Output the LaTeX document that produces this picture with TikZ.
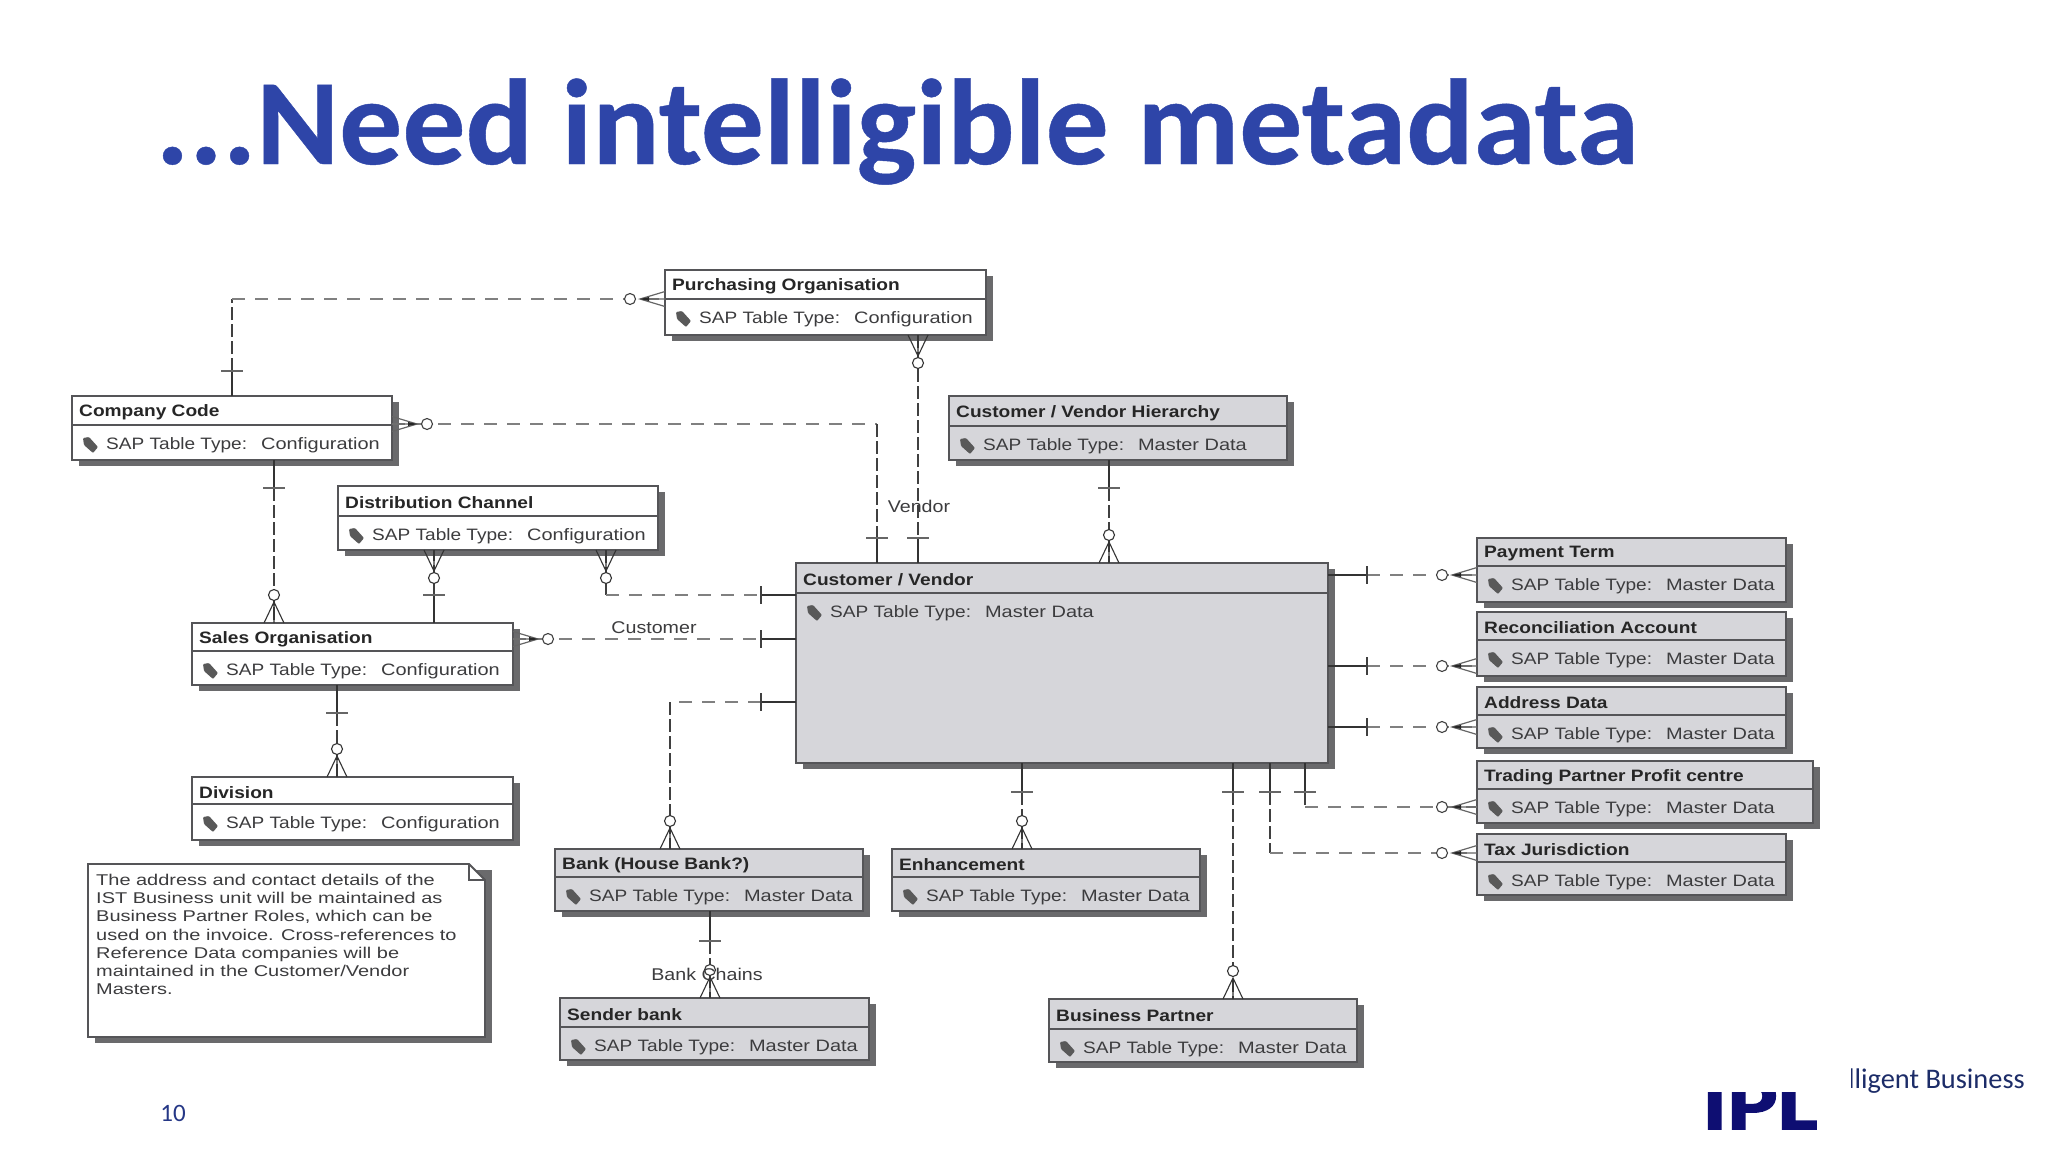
\documentclass[tikz,border=0pt]{standalone}
\usepackage{fontspec}
\setmainfont{Liberation Sans}
\newfontfamily\titlefont[FakeStretch=1.03,FakeBold=0.35]{Carlito}
\newfontfamily\plainfont{Carlito}
\newfontfamily\logofont[FakeStretch=1.26,FakeBold=2.2]{Carlito}
\newfontfamily\boxtitlefont[FakeStretch=1.16]{Liberation Sans}
\newfontfamily\boxbodyfont[FakeStretch=1.155]{Liberation Sans}
\newfontfamily\boxvaluefont[FakeStretch=1.21]{Liberation Sans}
\newfontfamily\notefont[FakeStretch=1.28]{Liberation Sans}
\definecolor{titleblue}{HTML}{2E45A8}
\definecolor{navy}{HTML}{1C2C68}
\definecolor{logoblue}{HTML}{0E0E72}
\definecolor{edgegrey}{HTML}{555558}
\definecolor{shadowgrey}{HTML}{6A6A6C}
\definecolor{masterfill}{HTML}{D6D6DA}
\definecolor{textgrey}{HTML}{3C3C3E}
\tikzset{
  x=1pt,y=-1pt,
  boxframe/.style={draw=edgegrey,line width=1.8pt,inner sep=0pt,outer sep=0pt,anchor=north west},
  boxshade/.style={fill=shadowgrey},
  boxtitle/.style={anchor=west,inner sep=0pt,font=\boxtitlefont\bfseries\fontsize{16.5}{18}\selectfont,text=black!85},
  boxbody/.style={anchor=west,inner sep=0pt,font=\boxbodyfont\fontsize{16.5}{18}\selectfont,text=textgrey},
  solidrel/.style={draw=black!80,line width=1.1pt},
  dashv/.style={draw=black!75,line width=1.1pt,dash pattern=on 13pt off 4pt},
  dashh/.style={draw=black!50,line width=2pt,dash pattern=on 13pt off 10pt},
  rellabel/.style={inner sep=0pt,font=\boxbodyfont\fontsize{17}{18}\selectfont,text=textgrey},
  crowv/.pic={
    \draw[solidrel] (-10,0)--(0,-21)--(10,0) (0,-21)--(0,0);
    \draw[draw=black!80,line width=1.1pt,fill=white] (0,-28) circle[radius=5.5];
  },
  crowh/.pic={
    \draw[solidrel,draw=black!60,line width=1.2pt] (0,-7.5)--(-25,0)--(0,7.5) (-25,0)--(0,0);
    \fill[black!85] (-25,0)--(-16,-2)--(-16,2)--cycle;
    \draw[draw=black!75,line width=1.1pt,fill=white] (-35,0) circle[radius=5.5];
  },
  tickbar/.pic={\draw[draw=black!60,line width=1.1pt] (-11,0)--(11,0);},
  tickpost/.pic={\draw[draw=black!75,line width=1.1pt] (0,-9)--(0,9);},
}
\newcommand\entity[9]{%
  \fill[boxshade] ({#2+7},{#3+6}) rectangle ({#4+7},{#5+6});
  \node[boxframe,fill=#7,minimum width={(#4-#2)*1pt},minimum height={(#5-#3)*1pt}] (#1) at (#2,#3) {};
  \draw[edgegrey,line width=1.5pt] (#2,#6)--(#4,#6);
  \fill[black!65,rounded corners=1pt] ({#2+11},{#6+13})--++(6,-1)--++(9,10)--++(-5,6)--++(-9,-8)--cycle;
  \node[boxtitle] (#1-title) at ({#2+7},{(#3+#6)/2+2}) {#8};
  \node[boxbody] (#1-body) at ({#2+34},{#6+20.5}) {SAP Table Type:\hspace{14pt}{\boxvaluefont #9}};
}
\begin{document}
\begin{tikzpicture}
\useasboundingbox (0,0) rectangle (2048,1152);
\fill[white] (0,0) rectangle (2048,1152);
\node[anchor=base west,inner sep=0pt,text=titleblue,font=\titlefont\bfseries\fontsize{122}{130}\selectfont] (maintitle) at (155.5,164) {...Need intelligible metadata};
% entities
\entity{purch}{665}{270}{986}{335}{299}{white}{Purchasing Organisation}{Configuration}
\entity{company}{72}{396}{392}{460}{425}{white}{Company Code}{Configuration}
\entity{hier}{949}{396}{1287}{460}{426}{masterfill}{Customer / Vendor Hierarchy}{Master Data}
\entity{dist}{338}{486}{658}{550}{516}{white}{Distribution Channel}{Configuration}
\entity{sales}{192}{623}{513}{685}{651}{white}{Sales Organisation}{Configuration}
\entity{cv}{796}{563}{1328}{763}{593}{masterfill}{Customer / Vendor}{Master Data}
\entity{division}{192}{777}{513}{840}{804}{white}{Division}{Configuration}
\entity{bank}{555}{849}{863}{911}{877}{masterfill}{Bank (House Bank?)}{Master Data}
\entity{enh}{892}{849}{1200}{911}{877}{masterfill}{Enhancement}{Master Data}
\entity{sender}{560}{998}{869}{1060}{1027}{masterfill}{Sender bank}{Master Data}
\entity{bp}{1049}{999}{1357}{1062}{1029}{masterfill}{Business Partner}{Master Data}
\entity{pay}{1477}{538}{1786}{602}{566}{masterfill}{Payment Term}{Master Data}
\entity{recon}{1477}{612}{1786}{676}{640}{masterfill}{Reconciliation Account}{Master Data}
\entity{addr}{1477}{687}{1786}{748}{715}{masterfill}{Address Data}{Master Data}
\entity{trade}{1477}{761}{1813}{823}{789}{masterfill}{Trading Partner Profit centre}{Master Data}
\entity{tax}{1477}{834}{1786}{895}{862}{masterfill}{Tax Jurisdiction}{Master Data}
% note
\fill[boxshade] (95,870) rectangle (492,1043);
\path[draw=edgegrey,line width=1.8pt,fill=white] (88,864)--(469,864)--(485,880)--(485,1037)--(88,1037)--cycle;
\draw[edgegrey,line width=1.2pt] (469,864)--(469,880)--(485,880);
\node[anchor=north west,inner sep=0pt,align=left,text=textgrey,font=\notefont\fontsize{15.6}{18.2}\selectfont] (note) at (96,874) {The address and contact details of the\\IST Business unit will be maintained as\\Business Partner Roles, which can be\\used on the invoice. Cross-references to\\Reference Data companies will be\\maintained in the Customer/Vendor\\Masters.};
% connectors
\draw[solidrel] (company.north -| 232,0)--(232,371);
\draw[dashv] (232,371)--(232,299);
\draw[dashh] (232,299)--(purch.west |- 0,299);
\path (232,371) pic{tickbar};
\path (purch.west |- 0,299) pic{crowh};
%
\draw[dashv] (purch.south -| 918,0)--(918,538);
\draw[solidrel] (918,538)--(cv.north -| 918,0);
\path (918,538) pic{tickbar};
\path (purch.south -| 918,0) pic[yscale=-1]{crowv};
%
\draw[dashh] (company.east |- 0,424)--(877,424);
\draw[dashv] (877,424)--(877,538);
\draw[solidrel] (877,538)--(cv.north -| 877,0);
\path (877,538) pic{tickbar};
\path (company.east |- 0,424) pic[xscale=-1]{crowh};
%
\draw[solidrel] (company.south -| 274,0)--(274,488);
\draw[dashv] (274,488)--(sales.north -| 274,0);
\path (274,488) pic{tickbar};
\path (sales.north -| 274,0) pic{crowv};
%
\draw[solidrel] (sales.north -| 434,0)--(434,595);
\draw[dashv] (434,595)--(dist.south -| 434,0);
\path (434,595) pic{tickbar};
\path (dist.south -| 434,0) pic[yscale=-1]{crowv};
%
\draw[dashv] (dist.south -| 606,0)--(606,595);
\draw[dashh] (606,595)--(761,595);
\draw[solidrel] (761,595)--(cv.west |- 0,595);
\path (761,595) pic{tickpost};
\path (dist.south -| 606,0) pic[yscale=-1]{crowv};
%
\draw[dashh] (sales.east |- 0,639)--(761,639);
\draw[solidrel] (761,639)--(cv.west |- 0,639);
\path (761,639) pic{tickpost};
\path (sales.east |- 0,639) pic[xscale=-1]{crowh};
%
\draw[dashh] (761,702)--(670,702);
\draw[dashv] (670,702)--(bank.north -| 670,0);
\draw[solidrel] (761,702)--(cv.west |- 0,702);
\path (761,702) pic{tickpost};
\path (bank.north -| 670,0) pic{crowv};
%
\draw[solidrel] (sales.south -| 337,0)--(337,713);
\draw[dashv] (337,713)--(division.north -| 337,0);
\path (337,713) pic{tickbar};
\path (division.north -| 337,0) pic{crowv};
%
\draw[solidrel] (bank.south -| 710,0)--(710,941);
\draw[dashv] (710,941)--(sender.north -| 710,0);
\path (710,941) pic{tickbar};
\path (sender.north -| 710,0) pic{crowv};
%
\draw[solidrel] (hier.south -| 1109,0)--(1109,488);
\draw[dashv] (1109,488)--(cv.north -| 1109,0);
\path (1109,488) pic{tickbar};
\path (cv.north -| 1109,0) pic{crowv};
%
\draw[solidrel,line width=1.6pt] (cv.east |- 0,575)--(1367,575);
\draw[dashh] (1367,575)--(pay.west |- 0,575);
\path (1367,575) pic{tickpost};
\path (pay.west |- 0,575) pic{crowh};
%
\draw[solidrel,line width=1.6pt] (cv.east |- 0,666)--(1367,666);
\draw[dashh] (1367,666)--(recon.west |- 0,666);
\path (1367,666) pic{tickpost};
\path (recon.west |- 0,666) pic{crowh};
%
\draw[solidrel,line width=1.6pt] (cv.east |- 0,727)--(1367,727);
\draw[dashh] (1367,727)--(addr.west |- 0,727);
\path (1367,727) pic{tickpost};
\path (addr.west |- 0,727) pic{crowh};
%
\draw[solidrel] (cv.south -| 1305,0)--(1305,792);
\draw[dashv] (1305,792)--(1305,807);
\draw[dashh] (1305,807)--(trade.west |- 0,807);
\path (1305,792) pic{tickbar};
\path (trade.west |- 0,807) pic{crowh};
%
\draw[solidrel] (cv.south -| 1270,0)--(1270,792);
\draw[dashv] (1270,792)--(1270,853);
\draw[dashh] (1270,853)--(tax.west |- 0,853);
\path (1270,792) pic{tickbar};
\path (tax.west |- 0,853) pic{crowh};
%
\draw[solidrel] (cv.south -| 1233,0)--(1233,792);
\draw[dashv] (1233,792)--(bp.north -| 1233,0);
\path (1233,792) pic{tickbar};
\path (bp.north -| 1233,0) pic{crowv};
%
\draw[solidrel] (cv.south -| 1022,0)--(1022,792);
\draw[dashv] (1022,792)--(enh.north -| 1022,0);
\path (1022,792) pic{tickbar};
\path (enh.north -| 1022,0) pic{crowv};
% labels
\node[rellabel] (vendorlabel) at (919,506) {Vendor};
\node[rellabel] (customerlabel) at (654,628) {Customer};
\node[rellabel] (bankchains) at (707,974) {Bank Chains};
% footer
\node[anchor=center,inner sep=0pt,text=titleblue!80!black,font=\plainfont\fontsize{25}{30}\selectfont] (pageno) at (173,1113) {10};
\begin{scope}
\clip (1851,1050) rectangle (2048,1120);
\node[anchor=base east,inner sep=0pt,text=navy,font=\plainfont\fontsize{28.4}{30}\selectfont] (tagline) at (2025,1088) {elligent Business};
\end{scope}
\begin{scope}
\clip (1700,1092) rectangle (1830,1140);
\node[anchor=base west,inner sep=0pt,text=logoblue,font=\logofont\bfseries\fontsize{75}{80}\selectfont] (logo) at (1702,1129) {IPL};
\end{scope}
\end{tikzpicture}
\end{document}
